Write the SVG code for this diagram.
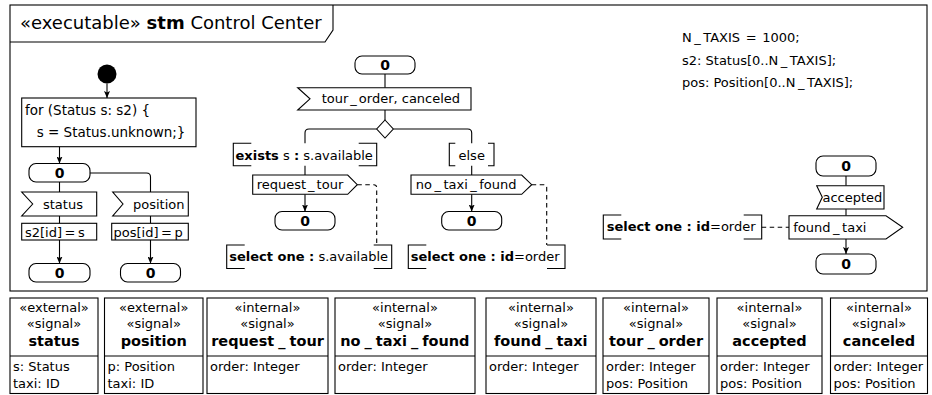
<svg xmlns="http://www.w3.org/2000/svg" width="932" height="395" viewBox="0 0 932 395">
<style>
.ln{fill:none;stroke:#000;stroke-width:1.1}
.sh{fill:#fff;stroke:#000;stroke-width:1.1}
.dash{stroke-dasharray:4.5 3.5}
text{font-family:"DejaVu Sans",sans-serif;font-size:13px;fill:#000}
.b{font-weight:bold}
.z{font-weight:bold;font-size:14px;text-anchor:middle}
.c{text-anchor:middle}
.nm{font-weight:bold;font-size:14.5px}
</style>
<defs>
<marker id="ah" viewBox="0 0 7 6" refX="7" refY="3" markerWidth="7" markerHeight="6" markerUnits="userSpaceOnUse" orient="auto"><path d="M0,0 L7,3 L0,6 L1.5,3 z" fill="#000"/></marker>
</defs>
<rect width="932" height="395" fill="#fff"/>
<g id="frame">
<rect x="10" y="5" width="917" height="286" class="ln"/>
<path d="M10,42 H325 L333,30 V5" class="ln"/>
<text x="20" y="29" style="font-size:18px">«executable» <tspan class="b">stm</tspan> Control Center</text>
</g>
<g id="declarations">
<text x="682" y="42">N<tspan dx="2.5">_</tspan><tspan dx="2.5">TAXIS</tspan> <tspan dx="1.5">=</tspan> <tspan dx="1.5">1000;</tspan></text>
<text x="682" y="64.5">s2: Status[0..N<tspan dx="2.5">_</tspan><tspan dx="2.5">TAXIS];</tspan></text>
<text x="682" y="87">pos: Position[0..N<tspan dx="2.5">_</tspan><tspan dx="2.5">TAXIS];</tspan></text>
</g>
<g id="connectors">
<path d="M107,83.5 V98" class="ln" marker-end="url(#ah)"/>
<path d="M59.5,146.7 V163.5" class="ln" marker-end="url(#ah)"/>
<path d="M59.5,182 V192" class="ln"/>
<path d="M90,173 H146.5 Q150.5,173 150.5,177 V192" class="ln"/>
<path d="M59.5,216 V223.3" class="ln"/>
<path d="M59.5,240 V263.5" class="ln" marker-end="url(#ah)"/>
<path d="M150.5,216 V223.3" class="ln"/>
<path d="M150.5,240 V263.5" class="ln" marker-end="url(#ah)"/>
<path d="M385,74 V87.7" class="ln"/>
<path d="M385,110 V120" class="ln"/>
<path d="M376.7,129 H309 Q305,129 305,133 V143.3" class="ln"/>
<path d="M305,165.7 V175" class="ln"/>
<path d="M393.3,129 H467.7 Q471.7,129 471.7,133 V143.3" class="ln"/>
<path d="M471.7,165.7 V175" class="ln"/>
<path d="M305,194.3 V211.5" class="ln" marker-end="url(#ah)"/>
<path d="M471.7,194.3 V211.5" class="ln" marker-end="url(#ah)"/>
<path d="M357.3,184.7 H373.7 Q376.7,184.7 376.7,187.7 V245" class="ln dash"/>
<path d="M531.7,184.7 H543.7 Q546.7,184.7 546.7,187.7 V245" class="ln dash"/>
<path d="M846,176 V185.7" class="ln"/>
<path d="M846,209 V215.7" class="ln"/>
<path d="M846,239 V254" class="ln" marker-end="url(#ah)"/>
<path d="M761.7,227.3 H789" class="ln dash"/>
</g>
<g id="initial"><circle cx="107" cy="74" r="9.5" fill="#000"/></g>
<g id="init_loop">
<rect x="21.7" y="98" width="174.3" height="48.7" class="sh"/>
<text x="25" y="115" style="font-size:13.5px">for (Status s: s2) {</text>
<text x="36.7" y="137" style="font-size:13.5px">s = Status.unknown;}</text>
</g>
<g id="state_left"><rect x="29" y="163.5" width="61" height="18.5" rx="7" class="sh"/><text x="59.5" y="177.5" class="z">0</text></g>
<g id="recv_status">
<polygon points="21.7,192 96.7,192 96.7,216 21.7,216 32.7,204" class="sh"/>
<text x="43" y="208.5">status</text>
</g>
<g id="act_status">
<rect x="21.7" y="223.3" width="75" height="16.7" class="sh"/>
<text x="25" y="236.5">s2[id]<tspan dx="2.5">=</tspan><tspan dx="2.5">s</tspan></text>
</g>
<g id="state_status"><rect x="29" y="263.5" width="61" height="18.5" rx="7" class="sh"/><text x="59.5" y="277.5" class="z">0</text></g>
<g id="recv_position">
<polygon points="112.7,192 188.3,192 188.3,216 112.7,216 123,204" class="sh"/>
<text x="133" y="208.5">position</text>
</g>
<g id="act_position">
<rect x="111.7" y="223.3" width="76.6" height="16.7" class="sh"/>
<text x="113.5" y="236.5">pos[id]<tspan dx="2.5">=</tspan><tspan dx="2.5">p</tspan></text>
</g>
<g id="state_position"><rect x="120.5" y="263.5" width="60" height="18.5" rx="7" class="sh"/><text x="150.5" y="277.5" class="z">0</text></g>
<g id="state_top"><rect x="355" y="56" width="60" height="18" rx="7" class="sh"/><text x="385" y="70" class="z">0</text></g>
<g id="recv_tour_order">
<polygon points="297.7,87.7 471,87.7 471,110 297.7,110 310,98.8" class="sh"/>
<text x="321.7" y="103">tour<tspan dx="2">_</tspan><tspan dx="2">order, canceled</tspan></text>
</g>
<g id="decision"><polygon points="385,120 393.3,129 385,138 376.7,129" class="sh"/></g>
<g id="guard_exists">
<path d="M251.3,143.3 H233.3 V165.7 H251.3 M358.7,143.3 H376.7 V165.7 H358.7" class="ln"/>
<text x="235.5" y="160"><tspan class="b">exists</tspan> s <tspan class="b">:</tspan> s.available</text>
</g>
<g id="guard_else">
<path d="M455.3,143.3 H449.3 V165.7 H455.3 M488,143.3 H494 V165.7 H488" class="ln"/>
<text x="471.7" y="160" class="c">else</text>
</g>
<g id="send_request_tour">
<polygon points="252.7,175 347.7,175 357.3,184.7 347.7,194.3 252.7,194.3" class="sh"/>
<text x="256.7" y="189">request<tspan dx="2">_</tspan><tspan dx="2">tour</tspan></text>
</g>
<g id="state_request"><rect x="275" y="211.5" width="60" height="18.5" rx="7" class="sh"/><text x="305" y="225.5" class="z">0</text></g>
<g id="select_available">
<path d="M244.7,245 H226.7 V268.5 H244.7 M373.7,245 H391.7 V268.5 H373.7" class="ln"/>
<text x="229.3" y="260.5"><tspan class="b">select one :</tspan> s.available</text>
</g>
<g id="send_no_taxi_found">
<polygon points="411,175 521.7,175 531.7,184.7 521.7,194.3 411,194.3" class="sh"/>
<text x="415.7" y="189">no<tspan dx="2.5">_</tspan><tspan dx="2.5">taxi</tspan><tspan dx="2.5">_</tspan><tspan dx="2.5">found</tspan></text>
</g>
<g id="state_no_taxi"><rect x="441.7" y="211.5" width="60" height="18.5" rx="7" class="sh"/><text x="471.7" y="225.5" class="z">0</text></g>
<g id="select_order_1">
<path d="M426.3,245 H408.3 V268.5 H426.3 M547,245 H565 V268.5 H547" class="ln"/>
<text x="410.7" y="260.5"><tspan class="b">select one : id</tspan>=order</text>
</g>
<g id="state_right_top"><rect x="816" y="156" width="60" height="20" rx="7" class="sh"/><text x="846" y="171" class="z">0</text></g>
<g id="recv_accepted">
<polygon points="816.7,185.7 884,185.7 884,209 816.7,209 822.3,197.3" class="sh"/>
<text x="822.5" y="201.5">accepted</text>
</g>
<g id="send_found_taxi">
<polygon points="789,215.7 886,215.7 902.7,227.3 886,239 789,239" class="sh"/>
<text x="793.3" y="231.5">found<tspan dx="2.5">_</tspan><tspan dx="2.5">taxi</tspan></text>
</g>
<g id="state_right_bottom"><rect x="816" y="254" width="60" height="20" rx="7" class="sh"/><text x="846" y="269" class="z">0</text></g>
<g id="select_order_2">
<path d="M621.3,215 H603.3 V239 H621.3 M743.7,215 H761.7 V239 H743.7" class="ln"/>
<text x="606.7" y="231"><tspan class="b">select one : id</tspan>=order</text>
</g>
<g id="sig_status">
<rect x="10" y="298" width="88" height="95.5" class="sh"/><path d="M10,356 H98" class="ln"/>
<text x="54" y="312" class="c">«external»</text><text x="54" y="328" class="c">«signal»</text>
<text x="54" y="346" class="c nm">status</text>
<text x="13" y="371">s: Status</text><text x="13" y="388">taxi: ID</text>
</g>
<g id="sig_position">
<rect x="104.5" y="298" width="98.5" height="95.5" class="sh"/><path d="M104.5,356 H203" class="ln"/>
<text x="153.7" y="312" class="c">«external»</text><text x="153.7" y="328" class="c">«signal»</text>
<text x="153.7" y="346" class="c nm">position</text>
<text x="107.5" y="371">p: Position</text><text x="107.5" y="388">taxi: ID</text>
</g>
<g id="sig_request_tour">
<rect x="207" y="298" width="121" height="95.5" class="sh"/><path d="M207,356 H328" class="ln"/>
<text x="267.5" y="312" class="c">«internal»</text><text x="267.5" y="328" class="c">«signal»</text>
<text x="211.2" y="346" class="nm">request<tspan dx="4">_</tspan><tspan dx="4">tour</tspan></text>
<text x="210" y="371">order: Integer</text>
</g>
<g id="sig_no_taxi_found">
<rect x="335" y="298" width="140" height="95.5" class="sh"/><path d="M335,356 H475" class="ln"/>
<text x="405" y="312" class="c">«internal»</text><text x="405" y="328" class="c">«signal»</text>
<text x="340.3" y="346" class="nm">no<tspan dx="4">_</tspan><tspan dx="4">taxi</tspan><tspan dx="4">_</tspan><tspan dx="4">found</tspan></text>
<text x="338" y="371">order: Integer</text>
</g>
<g id="sig_found_taxi">
<rect x="486" y="298" width="110" height="95.5" class="sh"/><path d="M486,356 H596" class="ln"/>
<text x="541" y="312" class="c">«internal»</text><text x="541" y="328" class="c">«signal»</text>
<text x="494" y="346" class="nm">found<tspan dx="4">_</tspan><tspan dx="4">taxi</tspan></text>
<text x="489" y="371">order: Integer</text>
</g>
<g id="sig_tour_order">
<rect x="603" y="298" width="106" height="95.5" class="sh"/><path d="M603,356 H709" class="ln"/>
<text x="656" y="312" class="c">«internal»</text><text x="656" y="328" class="c">«signal»</text>
<text x="609" y="346" class="nm">tour<tspan dx="4">_</tspan><tspan dx="4">order</tspan></text>
<text x="606" y="371">order: Integer</text><text x="606" y="388">pos: Position</text>
</g>
<g id="sig_accepted">
<rect x="717" y="298" width="105" height="95.5" class="sh"/><path d="M717,356 H822" class="ln"/>
<text x="769.5" y="312" class="c">«internal»</text><text x="769.5" y="328" class="c">«signal»</text>
<text x="769.5" y="346" class="c nm">accepted</text>
<text x="720" y="371">order: Integer</text><text x="720" y="388">pos: Position</text>
</g>
<g id="sig_canceled">
<rect x="830.5" y="298" width="97" height="95.5" class="sh"/><path d="M830.5,356 H927.5" class="ln"/>
<text x="879" y="312" class="c">«internal»</text><text x="879" y="328" class="c">«signal»</text>
<text x="879" y="346" class="c nm">canceled</text>
<text x="833.5" y="371">order: Integer</text><text x="833.5" y="388">pos: Position</text>
</g>
</svg>
